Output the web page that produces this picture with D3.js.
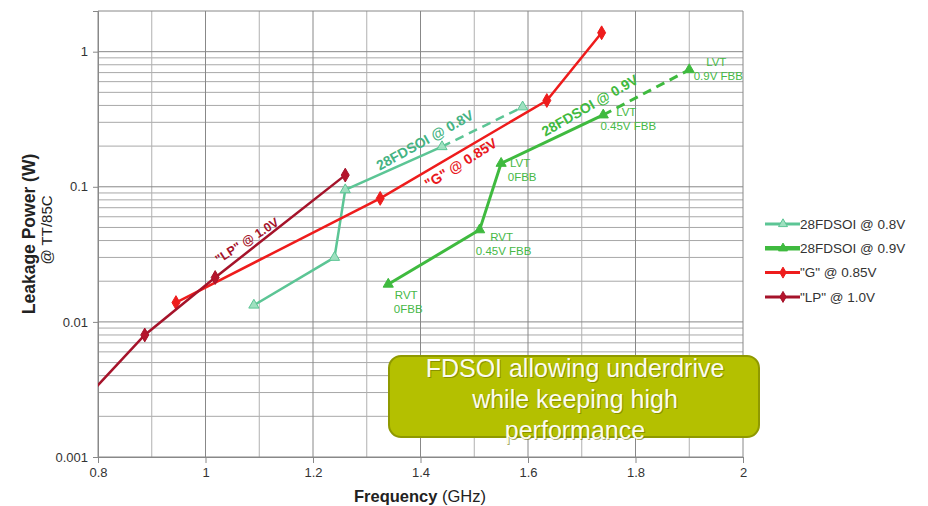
<!DOCTYPE html>
<html lang="en">
<head>
<meta charset="UTF-8">
<script src="https://d3js.org/d3.v7.min.js"></script>
<style>
  body { margin: 0; background: #fff; }
  svg text { font-family: "Liberation Sans", Arial, sans-serif; }
</style>
</head>
<body>
<div id="chart"></div>
<script>
// values
const yTicks = [0.001, 0.01, 0.1, 1];
const xTicks = [0.8, 1, 1.2, 1.4, 1.6, 1.8, 2];

const fdsoi08Freq = [1.09, 1.24, 1.26, 1.44, 1.59];
const fdsoi08Power = [0.0133, 0.030, 0.095, 0.198, 0.39];

const fdsoi09Freq = [1.34, 1.51, 1.55, 1.74, 1.90];
const fdsoi09Power = [0.019, 0.048, 0.149, 0.34, 0.735];
const fdsoi09Labels = [["RVT", "0FBB"], ["RVT", "0.45V FBB"], ["LVT", "0FBB"], ["LVT", "0.45V FBB"], ["LVT", "0.9V FBB"]];

const gFreq = [0.945, 1.325, 1.635, 1.737];
const gPower = [0.0139, 0.082, 0.435, 1.38];

const lpFreq = [0.78, 0.887, 1.018, 1.26];
const lpPower = [0.0028, 0.0080, 0.0213, 0.122];

const legendNames = ["28FDSOI @ 0.8V", "28FDSOI @ 0.9V", "\"G\" @ 0.85V", "\"LP\" @ 1.0V"];
const boxLines = ["FDSOI allowing underdrive", "while keeping high", "performance"];

const W = 928, H = 506;
const margin = { top: 11, right: 185, bottom: 49, left: 98 };
const width = W - margin.left - margin.right;
const height = H - margin.top - margin.bottom;

const svg = d3.select("#chart").append("svg")
  .attr("width", W).attr("height", H);
const g = svg.append("g")
  .attr("transform", "translate(" + margin.left + "," + margin.top + ")");

const x = d3.scaleLinear().domain([0.8, 2]).range([0, width]);
const y = d3.scaleLog().domain([0.001, 2]).range([height, 0]);

// grid
const minorY = [];
[0.001, 0.01, 0.1].forEach(d => { for (let k = 2; k <= 9; k++) minorY.push(d * k); });
g.selectAll(".hminor").data(minorY).enter().append("line")
  .attr("x1", 0).attr("x2", width)
  .attr("y1", d => y(d)).attr("y2", d => y(d))
  .attr("stroke", "#a8a8a8").attr("stroke-width", 1);
g.selectAll(".vgrid").data(d3.range(0.8, 2.05, 0.1)).enter().append("line")
  .attr("x1", d => x(d)).attr("x2", d => x(d))
  .attr("y1", 0).attr("y2", height)
  .attr("stroke", (d, i) => i % 2 ? "#b0b0b0" : "#888")
  .attr("stroke-width", 1);
g.selectAll(".hmajor").data(yTicks.concat([2])).enter().append("line")
  .attr("x1", 0).attr("x2", width)
  .attr("y1", d => y(d)).attr("y2", d => y(d))
  .attr("stroke", "#888").attr("stroke-width", 1);

// axes
const xAxis = g.append("g")
  .attr("transform", "translate(0," + height + ")")
  .call(d3.axisBottom(x).tickValues(xTicks).tickSize(6).tickPadding(5).tickFormat(d3.format("~g")));
const yAxis = g.append("g")
  .call(d3.axisLeft(y).tickValues(yTicks).tickSize(5).tickPadding(5).tickFormat(d => String(d)));
[xAxis, yAxis].forEach(a => {
  a.select(".domain").attr("stroke", "#888");
  a.selectAll(".tick line").attr("stroke", "#888");
  a.selectAll("text").attr("font-size", 13).attr("fill", "#333")
    .attr("font-family", "Liberation Sans, Arial, sans-serif");
});

// axis titles
const xt = svg.append("text").attr("x", 420).attr("y", 502)
  .attr("text-anchor", "middle").attr("font-size", 16.5).attr("fill", "#222");
xt.append("tspan").attr("font-weight", "bold").text("Frequency");
xt.append("tspan").text(" (GHz)");
svg.append("text").attr("transform", "translate(35,234) rotate(-90)")
  .attr("text-anchor", "middle").attr("font-size", 17.5).attr("font-weight", "bold")
  .attr("fill", "#222").text("Leakage Power (W)");
svg.append("text").attr("transform", "translate(52,230) rotate(-90)")
  .attr("text-anchor", "middle").attr("font-size", 15)
  .attr("fill", "#222").text("@ TT/85C");

// series
g.append("clipPath").attr("id", "plotclip").append("rect")
  .attr("width", width).attr("height", height);
const plot = g.append("g").attr("clip-path", "url(#plotclip)");

const toPts = (fs, ps) => fs.map((f, i) => ({ f: f, p: ps[i] }));
const line = d3.line().x(d => x(d.f)).y(d => y(d.p));

const series = [
  { pts: toPts(fdsoi08Freq, fdsoi08Power), color: "#5cc595", fill: "#9fe0c0", w: 2.5, sym: d3.symbolTriangle, dashedLast: true },
  { pts: toPts(fdsoi09Freq, fdsoi09Power), color: "#3fba3f", fill: "#3fba3f", w: 3, sym: d3.symbolTriangle, dashedLast: true },
  { pts: toPts(gFreq, gPower), color: "#ee1c1c", fill: "#ee1c1c", w: 2.5, sym: d3.symbolDiamond, dashedLast: false },
  { pts: toPts(lpFreq, lpPower), color: "#a5132a", fill: "#b5142c", w: 2.5, sym: d3.symbolDiamond, dashedLast: false }
];

series.forEach(s => {
  const n = s.pts.length;
  const solid = s.dashedLast ? s.pts.slice(0, n - 1) : s.pts;
  plot.append("path").datum(solid).attr("d", line)
    .attr("fill", "none").attr("stroke", s.color).attr("stroke-width", s.w);
  if (s.dashedLast) {
    plot.append("path").datum(s.pts.slice(n - 2)).attr("d", line)
      .attr("fill", "none").attr("stroke", s.color).attr("stroke-width", s.w)
      .attr("stroke-dasharray", "9,6");
  }
  plot.selectAll(null).data(s.pts).enter().append("path")
    .attr("d", d3.symbol().type(s.sym).size(s.sym === d3.symbolTriangle ? 45 : 55))
    .attr("transform", d => "translate(" + x(d.f) + "," + y(d.p) + ")")
    .attr("fill", s.fill).attr("stroke", s.color).attr("stroke-width", 1);
});

// point labels of the 0.9V series
const labelOffsets = [[18, 11], [22, 7], [19, 0], [23, -3], [27, -8]];
fdsoi09Labels.forEach((lab, i) => {
  const t = g.append("text")
    .attr("x", x(fdsoi09Freq[i]) + labelOffsets[i][0])
    .attr("y", y(fdsoi09Power[i]) + labelOffsets[i][1] + 4)
    .attr("text-anchor", "middle").attr("font-size", 11.5).attr("fill", "#46b846");
  lab.forEach((l, j) => t.append("tspan")
    .attr("x", x(fdsoi09Freq[i]) + labelOffsets[i][0] + (j ? 2 : 0))
    .attr("dy", j ? 14 : 0).text(l));
});

// series labels along the lines
const seriesLabels = [
  { text: "28FDSOI @ 0.8V", f: 1.408, p: 0.221, rot: -29, color: "#45b383", size: 14 },
  { text: "\"G\" @ 0.85V", f: 1.475, p: 0.149, rot: -32, color: "#e8181c", size: 14 },
  { text: "28FDSOI @ 0.9V", f: 1.715, p: 0.40, rot: -30, color: "#3fba3f", size: 14 },
  { text: "\"LP\" @ 1.0V", f: 1.077, p: 0.040, rot: -33, color: "#a5132a", size: 12.5 }
];
g.selectAll(".slabel").data(seriesLabels).enter().append("text")
  .attr("transform", d => "translate(" + x(d.f) + "," + y(d.p) + ") rotate(" + d.rot + ")")
  .attr("text-anchor", "middle").attr("dy", "0.35em")
  .attr("font-size", d => d.size).attr("font-weight", "bold")
  .attr("fill", d => d.color).text(d => d.text);

// legend
const legend = svg.append("g").attr("transform", "translate(765,224)");
legendNames.forEach((name, i) => {
  const s = series[i];
  const row = legend.append("g").attr("transform", "translate(0," + (i * 24.3) + ")");
  row.append("line").attr("x1", 0).attr("x2", 35).attr("y1", 0).attr("y2", 0)
    .attr("stroke", s.color).attr("stroke-width", i === 1 ? 4.5 : 3);
  row.append("path")
    .attr("d", d3.symbol().type(s.sym).size(35))
    .attr("transform", "translate(18,0)")
    .attr("fill", s.fill).attr("stroke", s.color);
  row.append("text").attr("x", 35).attr("y", 0).attr("dy", "0.35em")
    .attr("font-size", 13.5).attr("fill", "#333").text(name);
});

// callout box
const box = svg.append("g");
box.append("rect").attr("x", 389).attr("y", 356).attr("width", 370).attr("height", 81)
  .attr("rx", 12).attr("ry", 12)
  .attr("fill", "#b4c000").attr("stroke", "#8f9900").attr("stroke-width", 2);
boxLines.forEach((l, i) => {
  box.append("text").attr("x", 575).attr("y", 377 + i * 31)
    .attr("text-anchor", "middle").attr("font-size", 25)
    .attr("fill", "#6f7500").attr("opacity", 0.6).attr("dx", 1).attr("dy", 1).text(l);
  box.append("text").attr("x", 575).attr("y", 377 + i * 31)
    .attr("text-anchor", "middle").attr("font-size", 25)
    .attr("fill", "#fbfbf0").text(l);
});
</script>
</body>
</html>
